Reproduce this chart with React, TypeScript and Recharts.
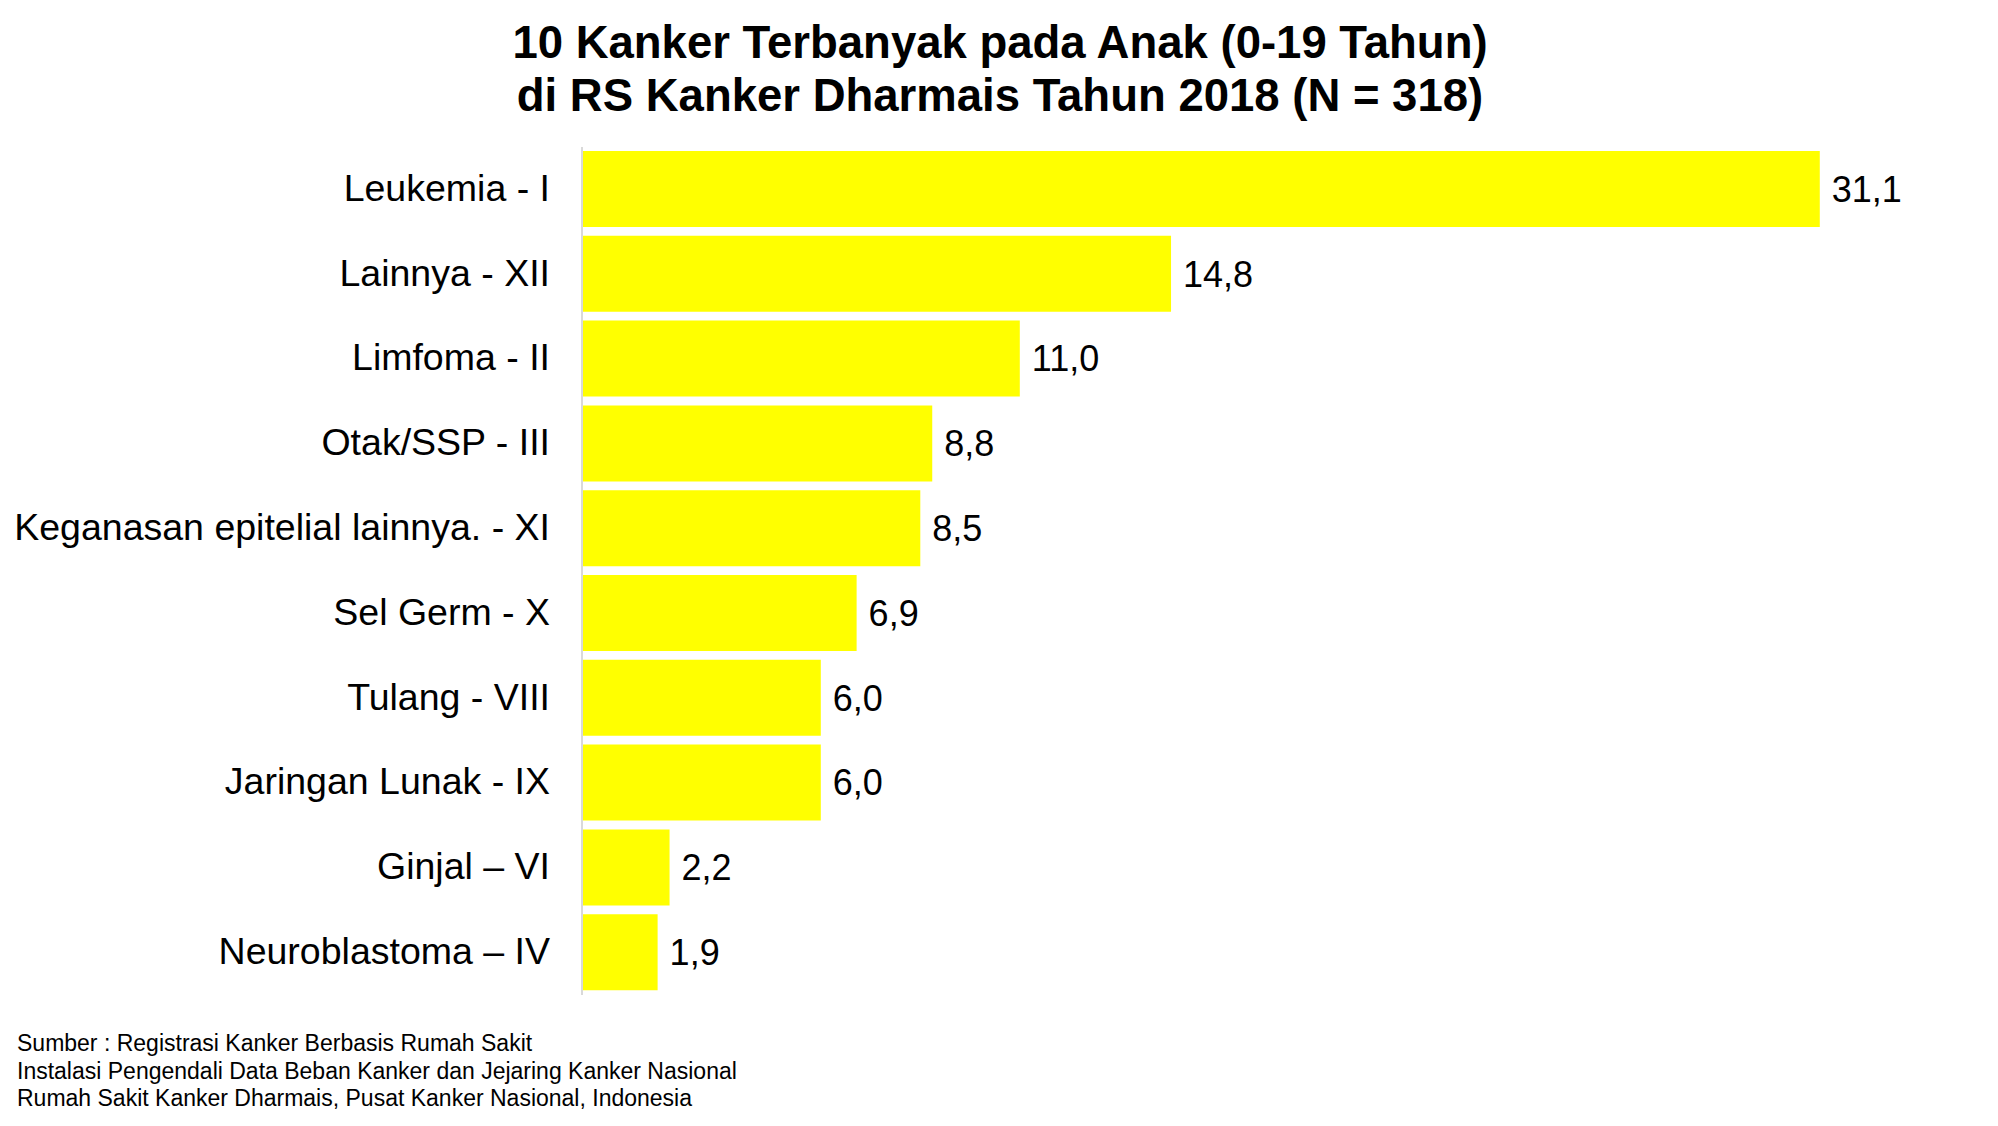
import React from 'react';
import { BarChart, Bar, XAxis, YAxis, LabelList } from 'recharts';

const categories = [
  'Leukemia - I',
  'Lainnya - XII',
  'Limfoma - II',
  'Otak/SSP - III',
  'Keganasan epitelial lainnya. - XI',
  'Sel Germ - X',
  'Tulang - VIII',
  'Jaringan Lunak - IX',
  'Ginjal \u2013 VI',
  'Neuroblastoma \u2013 IV',
];

const percentages = [31.1, 14.8, 11.0, 8.8, 8.5, 6.9, 6.0, 6.0, 2.2, 1.9];

const titleLines = [
  '10 Kanker Terbanyak pada Anak (0-19 Tahun)',
  'di RS Kanker Dharmais Tahun 2018 (N = 318)',
];

const sourceLines = [
  'Sumber : Registrasi Kanker Berbasis Rumah Sakit',
  'Instalasi Pengendali Data Beban Kanker dan Jejaring Kanker Nasional',
  'Rumah Sakit Kanker Dharmais, Pusat Kanker Nasional, Indonesia',
];

const data = categories.map((name, i) => ({ name, value: percentages[i] }));

const FONT = '"Liberation Sans", Arial, sans-serif';

const fmt = (v: any) => Number(v).toFixed(1).replace('.', ',');

export default function App() {
  return (
    <div
      style={{
        position: 'absolute',
        left: 0,
        top: 0,
        width: 1998,
        height: 1126,
        background: '#fff',
        fontFamily: FONT,
        overflow: 'hidden',
      }}
    >
      <div
        style={{
          position: 'absolute',
          left: 0,
          top: 16,
          width: 2000,
          textAlign: 'center',
          fontSize: 45.5,
          fontWeight: 'bold',
          lineHeight: '53px',
          color: '#000',
        }}
      >
        {titleLines.map((t) => (
          <div key={t}>{t}</div>
        ))}
      </div>

      <div style={{ position: 'absolute', left: 0, top: 0 }}>
        <BarChart
          width={1998}
          height={1126}
          data={data}
          layout="vertical"
          margin={{ top: 147, right: 23, bottom: 131, left: 0 }}
          barSize={76}
        >
          <XAxis type="number" domain={[0, 35]} hide />
          <YAxis
            type="category"
            dataKey="name"
            width={582}
            tickSize={0}
            tickMargin={32}
            tickLine={false}
            axisLine={{ stroke: '#d9d9d9', strokeWidth: 2 }}
            tick={{ fill: '#000', fontSize: 37.5, fontFamily: FONT, dy: -2 }}
            interval={0}
          />
          <Bar dataKey="value" fill="#ffff00" isAnimationActive={false}>
            <LabelList
              dataKey="value"
              position="right"
              offset={12}
              formatter={fmt}
              style={{ fill: '#000', fontSize: 36, fontFamily: FONT }}
            />
          </Bar>
        </BarChart>
      </div>

      <div
        style={{
          position: 'absolute',
          left: 17,
          top: 1030,
          fontSize: 23,
          lineHeight: '27.5px',
          color: '#000',
        }}
      >
        {sourceLines.map((t) => (
          <div key={t}>{t}</div>
        ))}
      </div>
    </div>
  );
}
